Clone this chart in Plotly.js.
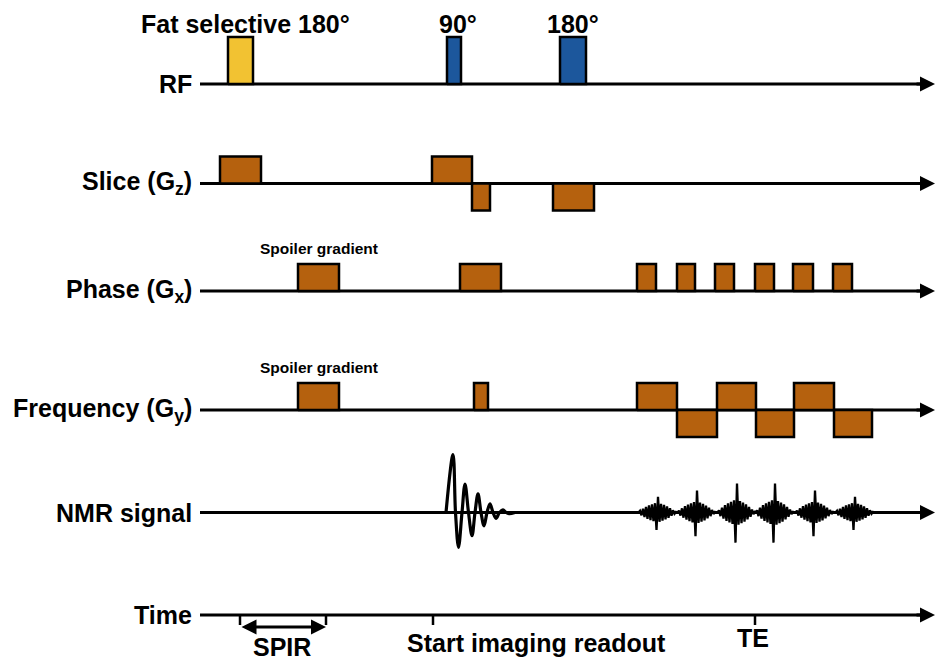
<!DOCTYPE html>
<html>
<head>
<meta charset="utf-8">
<script src="https://cdn.plot.ly/plotly-3.0.1.min.js"></script>
<style>
  html, body { margin: 0; padding: 0; background: #fff; }
  #seq { width: 935px; height: 660px; }
</style>
</head>
<body>
<div id="seq"></div>
<script>
// SPIR-prepared imaging sequence. Time is in arbitrary units measured
// from the start of each channel line.
const AXIS_END = 735;

// RF pulses: [start, end, relative amplitude]
const rfFat = [[28, 53, 1]];
const rfImaging = [[247, 261, 1], [360, 386, 1]];

// Gradient lobes: [start, end, amplitude]
const sliceLobes = [[20, 61, 1], [232, 272, 1], [272, 290, -1], [353, 394, -1]];
const phaseLobes = [[98, 139, 1], [260, 301, 1], [437, 456, 1], [477, 495, 1],
                    [515, 534, 1], [555, 574, 1], [593, 613, 1], [633, 652, 1]];
const freqLobes = [[98, 139, 1], [274, 288, 1], [437, 477, 1], [477, 517, -1],
                   [517, 556, 1], [556, 594, -1], [594, 634, 1], [634, 672, -1]];

// Free induction decay after the 90° pulse
const fidTime = [246, 253, 255.5, 258.5, 262, 265, 268.5, 272, 275, 278, 281,
                 284, 287, 290, 293, 296, 299.5, 303, 306, 309, 315];
const fidAmp = [0, 1.0, 0, -0.6, 0, 0.49, 0, -0.4, 0, 0.32, 0,
                -0.23, 0, 0.15, 0, -0.1, 0, 0.045, 0, -0.02, 0];

// Echo train during readout
const echoCenter = [458, 497, 537, 575, 615, 655];
const echoBody = [0.16, 0.18, 0.21, 0.21, 0.18, 0.16];
const echoSpikeUp = [0.27, 0.38, 0.5, 0.5, 0.38, 0.27];
const echoSpikeDown = [0.3, 0.41, 0.52, 0.52, 0.41, 0.3];
// ripple around each echo centre; the two null entries are the central spikes
const rippleOffset = [-19.5, -18, -16.5, -15, -13.5, -12, -10.5, -9, -7.5, -6, -4.5, -3,
                      -1.5, 0, 1.5, 3, 4.5, 6, 7.5, 9, 10.5, 12, 13.5, 15, 16.5, 18, 19.5];
const rippleShape = [0, 0.18, -0.3, 0.4, -0.5, 0.6, -0.68, 0.76, -0.82, 0.88, -0.94, 1,
                     null, null, -1, 0.94, -0.88, 0.82, -0.75, 0.67, -0.57, 0.46, -0.35, 0.24,
                     -0.14, 0.06, 0];
const SPIKE_DOWN_AT = -1.5, SPIKE_UP_AT = 0;

// Time markers
const timeTicks = [40, 126, 233, 555];
const spirWindow = [40, 126];

// Channel labels
const channelLabels = ['RF', 'Slice (G<sub>z</sub>)', 'Phase (G<sub>x</sub>)',
                       'Frequency (G<sub>y</sub>)', 'NMR signal', 'Time'];

// ---- layout of the channel rows (pixel baseline, pixels per unit) ----
const W = 935, H = 660, HALF = 66;
const rows = [
  { base: 84,    unit: 47 },  // RF
  { base: 183.5, unit: 27 },  // slice
  { base: 291,   unit: 27 },  // phase
  { base: 410,   unit: 27 },  // frequency
  { base: 512.5, unit: 58 },  // signal
  { base: 615,   unit: 10 }   // time
];

const YELLOW = '#F2C232', BLUE = '#1C579C', ORANGE = '#B5610E', INK = '#000000';
const FONT = { family: '"Liberation Sans", Arial, Helvetica, sans-serif', color: INK, weight: 'bold' };

const layout = {
  width: W, height: H, autosize: false,
  margin: { l: 0, r: 0, t: 0, b: 0, pad: 0 },
  paper_bgcolor: '#ffffff', plot_bgcolor: 'rgba(0,0,0,0)',
  showlegend: false,
  xaxis: { range: [-200, AXIS_END], visible: false, fixedrange: true },
  annotations: []
};

rows.forEach((r, i) => {
  const top = Math.max(0, r.base - HALF), bot = Math.min(H, r.base + HALF);
  const key = i === 0 ? 'yaxis' : 'yaxis' + (i + 1);
  layout[key] = {
    domain: [(H - bot) / H, (H - top) / H],
    range: [-(bot - r.base) / r.unit, (r.base - top) / r.unit],
    anchor: 'x', visible: false, fixedrange: true
  };
  r.ref = i === 0 ? 'y' : 'y' + (i + 1);
});

const traces = [];

// channel baselines with arrow heads
rows.forEach((r) => {
  traces.push({ type: 'scatter', mode: 'lines', x: [0, AXIS_END - 6], y: [0, 0],
    xaxis: 'x', yaxis: r.ref, line: { color: INK, width: 3 }, hoverinfo: 'skip' });
  layout.annotations.push({ x: AXIS_END, y: 0, xref: 'x', yref: r.ref,
    ax: AXIS_END - 20, ay: 0, axref: 'x', ayref: r.ref, text: '', showarrow: true,
    arrowhead: 2, arrowsize: 1, arrowwidth: 3, arrowcolor: INK });
});

function blocks(list) {
  const x = [], y = [];
  list.forEach(([a, b, h]) => { x.push(a, a, b, b, a, null); y.push(0, h, h, 0, 0, null); });
  return { x, y };
}
function blockTrace(list, yref, color) {
  const p = blocks(list);
  return { type: 'scatter', mode: 'lines', x: p.x, y: p.y, xaxis: 'x', yaxis: yref,
    fill: 'toself', fillcolor: color, line: { color: INK, width: 2.5 }, hoverinfo: 'skip' };
}

traces.push(blockTrace(rfFat, rows[0].ref, YELLOW));
traces.push(blockTrace(rfImaging, rows[0].ref, BLUE));
traces.push(blockTrace(sliceLobes, rows[1].ref, ORANGE));
traces.push(blockTrace(phaseLobes, rows[2].ref, ORANGE));
traces.push(blockTrace(freqLobes, rows[3].ref, ORANGE));

// FID
traces.push({ type: 'scatter', mode: 'lines', x: fidTime, y: fidAmp, xaxis: 'x', yaxis: rows[4].ref,
  line: { color: INK, width: 3.2, shape: 'spline', smoothing: 1 }, hoverinfo: 'skip' });

// echo train
const echoX = [], echoY = [];
echoCenter.forEach((c, k) => {
  rippleOffset.forEach((o, i) => {
    let v;
    if (o === SPIKE_DOWN_AT) v = -echoSpikeDown[k];
    else if (o === SPIKE_UP_AT) v = echoSpikeUp[k];
    else v = rippleShape[i] * echoBody[k];
    echoX.push(c + o); echoY.push(v);
  });
});
traces.push({ type: 'scatter', mode: 'lines', x: echoX, y: echoY, xaxis: 'x', yaxis: rows[4].ref,
  line: { color: INK, width: 2.3 }, hoverinfo: 'skip' });

// time ticks
const tx = [], ty = [];
timeTicks.forEach((t) => { tx.push(t, t, null); ty.push(0, -1, null); });
traces.push({ type: 'scatter', mode: 'lines', x: tx, y: ty, xaxis: 'x', yaxis: rows[5].ref,
  line: { color: INK, width: 2.5 }, hoverinfo: 'skip' });

// SPIR interval double arrow
layout.annotations.push({ x: spirWindow[1], y: -1.2, xref: 'x', yref: rows[5].ref,
  ax: spirWindow[0], ay: -1.2, axref: 'x', ayref: rows[5].ref, text: '', showarrow: true,
  arrowside: 'end+start', arrowhead: 2, startarrowhead: 2, arrowsize: 1, startarrowsize: 1,
  arrowwidth: 3, arrowcolor: INK });

// channel labels
channelLabels.forEach((txt, i) => {
  layout.annotations.push({ x: -6, y: 0, xref: 'x', yref: rows[i].ref, text: txt,
    showarrow: false, xanchor: 'right', yanchor: 'middle', font: Object.assign({ size: 25 }, FONT) });
});

// pulse and interval labels
const textNotes = [
  { t: 'Fat selective 180°', x: 45, y: 1.277, row: 0, size: 25 },
  { t: '90°', x: 258, y: 1.277, row: 0, size: 25 },
  { t: '180°', x: 373, y: 1.277, row: 0, size: 25 },
  { t: 'Spoiler gradient', x: 118.5, y: 1.59, row: 2, size: 15.5 },
  { t: 'Spoiler gradient', x: 118.5, y: 1.59, row: 3, size: 15.5 },
  { t: 'SPIR', x: 82, y: -3.15, row: 5, size: 25 },
  { t: 'Start imaging readout', x: 336, y: -2.8, row: 5, size: 25 },
  { t: 'TE', x: 553, y: -2.25, row: 5, size: 25 }
];
textNotes.forEach((n) => {
  layout.annotations.push({ x: n.x, y: n.y, xref: 'x', yref: rows[n.row].ref, text: n.t,
    showarrow: false, xanchor: 'center', yanchor: 'middle', font: Object.assign({ size: n.size }, FONT) });
});

Plotly.newPlot('seq', traces, layout, { displayModeBar: false, staticPlot: true });
</script>
</body>
</html>
